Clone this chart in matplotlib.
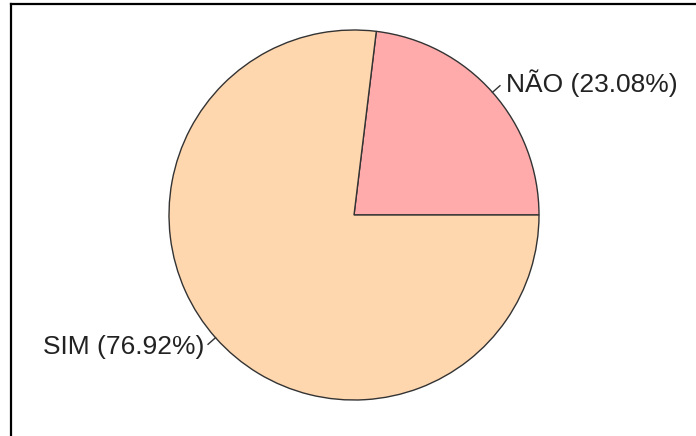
import numpy as np
import matplotlib
matplotlib.use("Agg")
import matplotlib.pyplot as plt
from matplotlib.lines import Line2D

categories = ["NÃO", "SIM"]
counts = [3, 10]
slice_colors = ["#FFABAB", "#FFD7AF"]

W, H = 696, 436
fig = plt.figure(figsize=(W / 100, H / 100), dpi=100)
ax = fig.add_axes([0, 0, 1, 1])

cx, cy, r = 354, H - 215, 185
wedges, _ = ax.pie(counts, colors=slice_colors, startangle=0, counterclock=True,
                   center=(cx, cy), radius=r,
                   wedgeprops=dict(edgecolor="#333333", linewidth=1.0))
ax.set_xlim(0, W)
ax.set_ylim(0, H)
ax.set_aspect("equal")
ax.axis("off")

total = sum(counts)
for w, name, v in zip(wedges, categories, counts):
    mid = np.deg2rad((w.theta1 + w.theta2) / 2)
    ux, uy = np.cos(mid), np.sin(mid)
    x0, y0 = cx + r * ux, cy + r * uy
    x1, y1 = cx + (r + 10) * ux, cy + (r + 10) * uy
    ax.add_line(Line2D([x0, x1], [y0, y1], color="#333333", lw=1.0))
    left = ux >= 0
    tx = x1 + (6 if left else -4)
    ty = y1 + (3 if left else -3)
    ax.text(tx, ty, f"{name} ({v / total * 100:.2f}%)",
            ha="left" if left else "right", va="center",
            fontsize=19, family="Liberation Sans", color="#222222")

# frame edges along top and left
fig.add_artist(Line2D([10.5 / W, 1], [1 - 3.7 / H, 1 - 3.7 / H],
                      transform=fig.transFigure, color="black", lw=1.6))
fig.add_artist(Line2D([10.5 / W, 10.5 / W], [0, 1 - 3.7 / H],
                      transform=fig.transFigure, color="black", lw=1.6))

fig.savefig("out.png", dpi=100, facecolor="white")
